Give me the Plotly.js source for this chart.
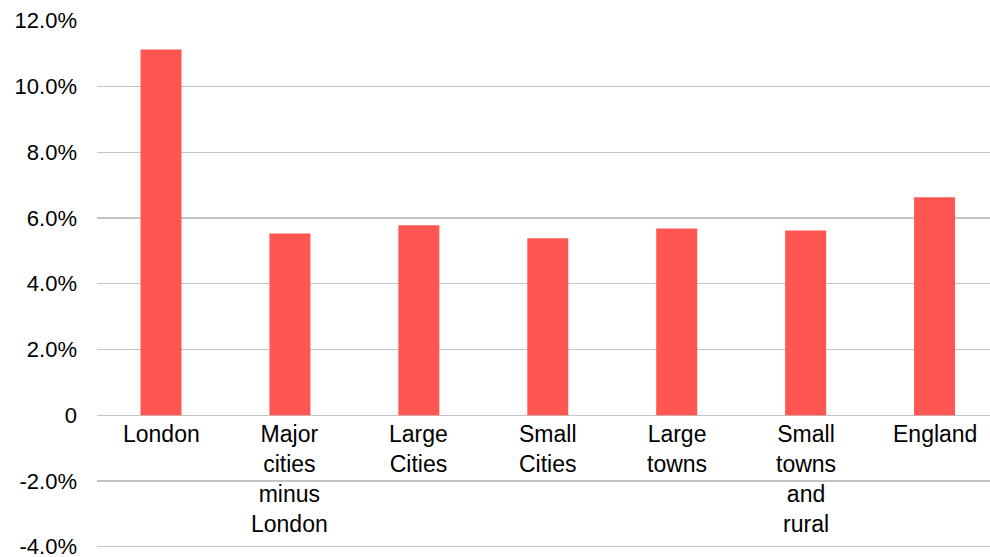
<!DOCTYPE html>
<html>
<head>
<meta charset="utf-8">
<script src="https://cdn.plot.ly/plotly-3.0.1.min.js"></script>
<style>html,body{margin:0;padding:0;background:#fff;}#chart{width:990px;height:557px;}</style>
</head>
<body>
<div id="chart"></div>
<script>
const categories = ["London", "Major cities minus London", "Large Cities", "Small Cities", "Large towns", "Small towns and rural", "England"];
const categoryLabels = ["London", "Major<br>cities<br>minus<br>London", "Large<br>Cities", "Small<br>Cities", "Large<br>towns", "Small<br>towns<br>and<br>rural", "England"];
const values = [11.12, 5.53, 5.78, 5.38, 5.68, 5.62, 6.63];
const tickVals = [-4, -2, 0, 2, 4, 6, 8, 10, 12];
const tickText = ["-4.0%", "-2.0%", "0", "2.0%", "4.0%", "6.0%", "8.0%", "10.0%", "12.0%"];

const font = "Liberation Sans, Arial, Helvetica, sans-serif";

const trace = {
  type: "bar",
  x: categories,
  y: values,
  width: 0.318,
  marker: {color: "#FF5652"},
  hoverinfo: "skip"
};

const annotations = categories.map((c, i) => ({
  x: c, y: 0, xref: "x", yref: "y",
  text: categoryLabels[i],
  showarrow: false,
  yanchor: "top", xanchor: "center",
  yshift: -4,
  align: "center",
  font: {family: font, size: 23, color: "#000"}
}));

const layout = {
  width: 990, height: 557,
  margin: {l: 97, r: 0, t: 20, b: 7},
  paper_bgcolor: "#fff", plot_bgcolor: "#fff",
  showlegend: false,
  xaxis: {
    type: "category",
    range: [-0.4965, 6.43],
    showticklabels: false, showgrid: false, zeroline: false, showline: false, ticks: ""
  },
  yaxis: {
    range: [-4.1, 12.02],
    tickvals: tickVals, ticktext: tickText,
    showgrid: true, gridcolor: "#c4c4c4", gridwidth: 1.3,
    zeroline: true, zerolinecolor: "#c4c4c4", zerolinewidth: 1.3,
    showline: false, ticks: "",
    ticklabelstandoff: 19,
    ticklabeloverflow: "allow",
    tickfont: {family: font, size: 22, color: "#000"}
  },
  annotations: annotations
};

Plotly.newPlot("chart", [trace], layout, {displayModeBar: false, staticPlot: true});
</script>
</body>
</html>
